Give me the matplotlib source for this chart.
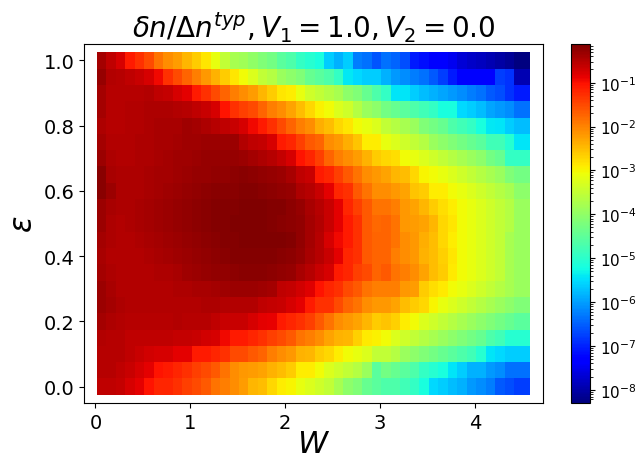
import numpy as np
import matplotlib
matplotlib.use("Agg")
import matplotlib.pyplot as plt
from matplotlib.colors import LogNorm

# disorder strength W (columns) and energy eps (rows)
W = [round(0.1 * (i + 1), 1) for i in range(45)]
eps = [round(0.05 * j, 2) for j in range(21)]

# log10(delta n / Delta n^typ), one list per eps row (top row first)
row_100 = [-0.39, -0.57, -0.75, -1.08, -1.30, -1.52, -1.85, -2.07, -2.22, -2.44, -2.62, -2.84, -3.15, -3.53, -3.79,
           -3.85, -4.00, -4.17, -4.30, -4.55, -4.68, -4.93, -5.06, -5.18, -5.64, -5.85, -5.64, -6.26, -6.36, -6.60,
           -6.36, -6.46, -6.66, -7.07, -7.17, -7.30, -7.30, -7.48, -7.67, -7.76, -7.85, -7.94, -8.03, -8.12, -8.30]
row_095 = [-0.30, -0.48, -0.52, -0.57, -0.66, -0.75, -0.95, -1.30, -1.52, -1.74, -1.96, -2.18, -2.40, -2.62, -2.84,
           -3.05, -3.28, -3.53, -3.66, -3.92, -4.04, -4.17, -4.42, -4.55, -4.68, -4.93, -5.40, -5.55, -5.64, -5.64,
           -5.85, -6.05, -6.15, -6.26, -6.36, -6.56, -6.77, -7.07, -7.30, -7.35, -7.35, -7.35, -6.77, -6.87, -7.94]
row_090 = [-0.39, -0.52, -0.52, -0.52, -0.52, -0.48, -0.57, -0.62, -0.75, -0.84, -1.08, -1.30, -1.52, -1.74, -1.96,
           -2.07, -2.22, -2.44, -2.62, -2.84, -2.90, -3.15, -3.41, -3.53, -3.66, -3.79, -4.04, -4.17, -4.42, -4.68,
           -4.93, -5.45, -5.45, -5.64, -5.75, -5.85, -5.95, -6.05, -6.15, -6.26, -6.36, -6.56, -6.66, -6.87, -7.07]
row_085 = [-0.39, -0.52, -0.52, -0.48, -0.48, -0.44, -0.44, -0.44, -0.48, -0.52, -0.57, -0.66, -0.75, -1.02, -1.30,
           -1.41, -1.52, -1.74, -1.96, -2.07, -2.29, -2.51, -2.73, -2.95, -3.05, -3.28, -3.41, -3.66, -3.92, -4.04,
           -4.30, -4.42, -4.55, -4.68, -4.80, -4.93, -5.18, -5.18, -5.55, -5.64, -5.75, -5.95, -6.05, -6.15, -6.36]
row_080 = [-0.44, -0.52, -0.52, -0.48, -0.48, -0.44, -0.41, -0.41, -0.41, -0.37, -0.39, -0.44, -0.52, -0.57, -0.66,
           -0.75, -0.93, -1.08, -1.30, -1.52, -1.74, -1.96, -2.07, -2.36, -2.51, -2.73, -2.84, -3.05, -3.15, -3.28,
           -3.53, -3.66, -3.79, -3.92, -4.17, -4.30, -4.42, -4.68, -4.80, -4.93, -5.18, -5.40, -5.45, -5.64, -5.75]
row_075 = [-0.39, -0.48, -0.48, -0.48, -0.44, -0.44, -0.41, -0.41, -0.39, -0.37, -0.37, -0.34, -0.34, -0.34, -0.34,
           -0.48, -0.57, -0.62, -0.75, -1.08, -1.19, -1.41, -1.63, -1.74, -2.07, -2.18, -2.36, -2.57, -2.90, -2.90,
           -3.15, -3.28, -3.41, -3.53, -3.66, -3.92, -4.04, -4.17, -4.30, -4.42, -4.55, -4.80, -4.80, -5.06, -5.45]
row_070 = [-0.34, -0.44, -0.48, -0.48, -0.44, -0.44, -0.41, -0.39, -0.37, -0.37, -0.34, -0.30, -0.30, -0.30, -0.30,
           -0.34, -0.39, -0.44, -0.52, -0.62, -0.75, -1.02, -1.19, -1.41, -1.74, -1.96, -2.07, -2.22, -2.40, -2.62,
           -2.73, -2.79, -3.05, -3.15, -3.28, -3.41, -3.53, -3.66, -3.79, -3.92, -4.04, -4.30, -4.42, -4.93, -4.93]
row_065 = [-0.21, -0.41, -0.44, -0.44, -0.44, -0.41, -0.39, -0.39, -0.37, -0.34, -0.30, -0.30, -0.26, -0.26, -0.23,
           -0.21, -0.23, -0.26, -0.30, -0.34, -0.41, -0.57, -0.66, -1.08, -1.19, -1.41, -1.63, -1.85, -2.07, -2.18,
           -2.29, -2.44, -2.51, -2.73, -2.98, -3.05, -3.15, -3.28, -3.41, -3.53, -3.66, -3.79, -3.92, -4.17, -4.30]
row_060 = [-0.21, -0.34, -0.44, -0.44, -0.44, -0.41, -0.39, -0.37, -0.34, -0.30, -0.26, -0.23, -0.21, -0.21, -0.19,
           -0.18, -0.18, -0.19, -0.23, -0.26, -0.30, -0.44, -0.52, -0.66, -0.84, -1.19, -1.30, -1.63, -1.85, -2.07,
           -2.07, -2.18, -2.29, -2.57, -2.62, -2.90, -2.93, -3.05, -3.15, -3.28, -3.41, -3.53, -3.66, -3.79, -4.04]
row_055 = [-0.34, -0.41, -0.44, -0.44, -0.41, -0.39, -0.37, -0.34, -0.30, -0.26, -0.23, -0.21, -0.18, -0.16, -0.16,
           -0.12, -0.12, -0.12, -0.16, -0.18, -0.23, -0.30, -0.41, -0.52, -0.66, -0.84, -1.19, -1.41, -1.63, -1.85,
           -1.85, -1.96, -2.18, -2.29, -2.44, -2.62, -2.79, -2.93, -3.05, -3.15, -3.28, -3.41, -3.53, -3.66, -3.92]
row_050 = [-0.34, -0.44, -0.48, -0.44, -0.41, -0.39, -0.35, -0.34, -0.30, -0.26, -0.23, -0.21, -0.18, -0.16, -0.12,
           -0.12, -0.12, -0.12, -0.16, -0.19, -0.23, -0.26, -0.39, -0.48, -0.66, -0.84, -1.08, -1.30, -1.63, -1.78,
           -1.74, -1.85, -2.18, -2.22, -2.29, -2.44, -2.73, -2.84, -3.05, -3.15, -3.28, -3.41, -3.53, -3.66, -3.92]
row_045 = [-0.39, -0.44, -0.48, -0.48, -0.44, -0.41, -0.39, -0.37, -0.34, -0.30, -0.26, -0.23, -0.21, -0.18, -0.16,
           -0.12, -0.12, -0.12, -0.12, -0.12, -0.16, -0.26, -0.39, -0.52, -0.75, -0.95, -1.08, -1.30, -1.63, -1.74,
           -1.74, -1.85, -2.07, -2.18, -2.36, -2.51, -2.73, -2.90, -3.05, -3.15, -3.28, -3.41, -3.53, -3.79, -3.92]
row_040 = [-0.41, -0.48, -0.48, -0.48, -0.48, -0.44, -0.41, -0.39, -0.37, -0.34, -0.30, -0.26, -0.23, -0.21, -0.18,
           -0.16, -0.16, -0.16, -0.16, -0.19, -0.23, -0.30, -0.41, -0.52, -0.66, -0.84, -1.19, -1.30, -1.63, -1.74,
           -1.74, -1.96, -2.07, -2.18, -2.40, -2.51, -2.66, -2.84, -3.05, -3.15, -3.28, -3.41, -3.53, -3.79, -3.92]
row_035 = [-0.39, -0.44, -0.48, -0.48, -0.48, -0.48, -0.44, -0.44, -0.41, -0.37, -0.34, -0.30, -0.26, -0.26, -0.23,
           -0.21, -0.21, -0.21, -0.23, -0.26, -0.30, -0.41, -0.52, -0.66, -0.75, -1.08, -1.19, -1.41, -1.52, -1.74,
           -1.63, -1.85, -1.96, -2.07, -2.29, -2.51, -2.62, -2.88, -3.05, -3.15, -3.28, -3.41, -3.53, -3.79, -3.92]
row_030 = [-0.34, -0.41, -0.48, -0.48, -0.48, -0.48, -0.48, -0.48, -0.44, -0.44, -0.41, -0.41, -0.39, -0.37, -0.34,
           -0.34, -0.34, -0.35, -0.39, -0.57, -0.62, -0.70, -0.80, -1.02, -1.19, -1.30, -1.52, -1.63, -1.85, -1.96,
           -1.96, -1.96, -2.18, -2.22, -2.62, -2.79, -2.88, -3.05, -3.15, -3.28, -3.41, -3.53, -3.66, -3.79, -3.92]
row_025 = [-0.34, -0.39, -0.44, -0.48, -0.48, -0.48, -0.48, -0.48, -0.48, -0.48, -0.48, -0.44, -0.44, -0.48, -0.48,
           -0.48, -0.48, -0.57, -0.62, -0.66, -0.75, -0.84, -1.08, -1.30, -1.30, -1.52, -1.74, -1.85, -2.07, -2.18,
           -2.18, -2.29, -2.51, -2.62, -2.73, -2.98, -3.15, -3.28, -3.41, -3.53, -3.66, -3.79, -3.92, -4.04, -4.17]
row_020 = [-0.39, -0.44, -0.48, -0.52, -0.52, -0.52, -0.52, -0.52, -0.48, -0.52, -0.52, -0.52, -0.57, -0.66, -0.66,
           -0.66, -0.75, -0.84, -0.88, -1.08, -1.19, -1.30, -1.41, -1.63, -1.85, -2.07, -2.18, -2.29, -2.44, -2.62,
           -2.57, -2.66, -2.93, -3.05, -3.28, -3.41, -3.53, -3.66, -3.79, -3.92, -4.04, -4.17, -4.30, -4.42, -4.55]
row_015 = [-0.48, -0.52, -0.52, -0.57, -0.57, -0.57, -0.57, -0.57, -0.62, -0.62, -0.66, -0.70, -0.75, -0.93, -1.08,
           -1.08, -1.19, -1.30, -1.41, -1.52, -1.63, -1.85, -1.96, -2.07, -2.29, -2.40, -2.44, -2.66, -2.88, -2.95,
           -3.05, -3.28, -3.41, -3.53, -3.66, -3.79, -3.92, -4.04, -4.17, -4.30, -4.42, -4.68, -4.80, -5.06, -5.06]
row_010 = [-0.52, -0.52, -0.52, -0.57, -0.66, -0.70, -0.75, -0.75, -0.84, -0.84, -1.08, -1.08, -1.19, -1.30, -1.52,
           -1.52, -1.63, -1.74, -1.96, -2.07, -2.18, -2.40, -2.44, -2.62, -2.73, -2.90, -3.05, -3.15, -3.28, -3.53,
           -3.53, -3.66, -3.92, -4.04, -4.17, -4.30, -4.42, -4.55, -4.68, -4.80, -5.06, -5.45, -5.55, -5.64, -5.64]
row_005 = [-0.52, -0.52, -0.57, -0.66, -0.75, -0.84, -1.02, -1.08, -1.19, -1.30, -1.41, -1.52, -1.63, -1.85, -2.07,
           -2.18, -2.22, -2.29, -2.40, -2.51, -2.62, -2.90, -2.93, -3.05, -3.28, -3.41, -3.53, -3.66, -3.92, -4.55,
           -4.30, -4.42, -4.55, -4.68, -4.93, -5.06, -5.18, -5.45, -5.64, -5.85, -5.85, -6.05, -6.15, -6.36, -6.36]
row_000 = [-0.57, -0.57, -0.62, -0.75, -0.84, -1.02, -1.19, -1.19, -1.30, -1.41, -1.52, -1.63, -1.85, -1.96, -2.07,
           -2.22, -2.44, -2.51, -2.73, -2.90, -2.98, -3.15, -3.28, -3.41, -3.53, -3.79, -4.04, -4.17, -4.42, -4.55,
           -4.68, -4.68, -4.80, -4.93, -5.18, -5.55, -5.64, -5.75, -5.85, -6.05, -6.15, -6.26, -6.56, -6.66, -6.77]

rows_top_down = [row_100, row_095, row_090, row_085, row_080, row_075, row_070,
                 row_065, row_060, row_055, row_050, row_045, row_040, row_035,
                 row_030, row_025, row_020, row_015, row_010, row_005, row_000]

# grid[j, i] -> eps[j], W[i]
grid = np.array(rows_top_down[::-1])

# W outer loop so later columns sit on top of earlier ones
xs, ys, vals = [], [], []
for i, w in enumerate(W):
    for j, e in enumerate(eps):
        xs.append(w)
        ys.append(e)
        vals.append(10.0 ** grid[j, i])

fig = plt.figure(figsize=(6.42, 4.60), dpi=100)
ax = fig.add_axes([0.131, 0.122, 0.715, 0.780])
cax = fig.add_axes([0.889, 0.122, 0.030, 0.780])

sc = ax.scatter(xs, ys, c=vals, cmap="jet", norm=LogNorm(vmin=min(vals), vmax=max(vals)),
                marker="s", s=140, linewidths=0)

ax.set_title(r"$\delta n/\Delta n^{typ}, V_1 = 1.0, V_2 = 0.0$", fontsize=20)
ax.set_xlabel(r"$W$", fontsize=22, labelpad=-2)
ax.set_ylabel(r"$\epsilon$", fontsize=22)
ax.tick_params(labelsize=14)

cb = fig.colorbar(sc, cax=cax)
cb.ax.tick_params(labelsize=11)

fig.savefig("out.png", dpi=100)
